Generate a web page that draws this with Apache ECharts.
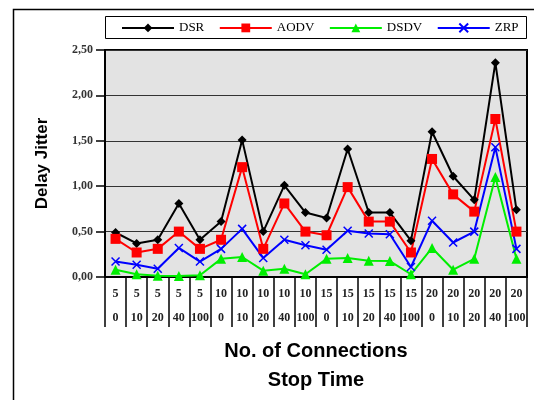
<!DOCTYPE html>
<html>
<head>
<meta charset="utf-8">
<script src="https://cdn.jsdelivr.net/npm/echarts@6/dist/echarts.min.js"></script>
<style>
html,body{margin:0;padding:0;background:#fff;}
#chart{width:534px;height:400px;}
</style>
</head>
<body>
<div id="chart"></div>
<script>
// Number of connections and stop time for each scenario
const connections = [5,5,5,5,5,10,10,10,10,10,15,15,15,15,15,20,20,20,20,20];
const stopTimes   = [0,10,20,40,100,0,10,20,40,100,0,10,20,40,100,0,10,20,40,100];

// Delay jitter per protocol
const dsr  = [0.49,0.37,0.41,0.81,0.41,0.61,1.51,0.50,1.01,0.71,0.65,1.41,0.71,0.71,0.40,1.60,1.11,0.85,2.36,0.74];
const aodv = [0.42,0.27,0.31,0.50,0.31,0.41,1.21,0.31,0.81,0.50,0.46,0.99,0.61,0.61,0.27,1.30,0.91,0.72,1.74,0.50];
const dsdv = [0.08,0.03,0.015,0.01,0.02,0.20,0.22,0.07,0.09,0.03,0.20,0.21,0.18,0.175,0.03,0.32,0.08,0.20,1.10,0.20];
const zrp  = [0.17,0.135,0.09,0.32,0.17,0.31,0.53,0.21,0.41,0.35,0.30,0.51,0.48,0.47,0.11,0.62,0.38,0.50,1.43,0.31];

const yTicks = [0, 0.5, 1, 1.5, 2, 2.5];

const categories = connections.map((c, i) => c + '\n' + stopTimes[i]);

const serif = '"Liberation Serif", "Times New Roman", serif';
const sans = '"Liberation Sans", Arial, sans-serif';

const chart = echarts.init(document.getElementById('chart'));

function lineSeries(name, data, color, symbol, size, extra) {
  return Object.assign({
    name: name,
    type: 'line',
    data: data,
    symbol: symbol,
    symbolSize: size,
    showAllSymbol: true,
    lineStyle: { color: color, width: 2 },
    itemStyle: { color: color },
    emphasis: { disabled: true },
    animation: false
  }, extra || {});
}

chart.setOption({
  animation: false,
  graphic: [
    { type: 'rect', shape: { x: 13.5, y: 9.5, width: 600, height: 500 },
      style: { fill: 'none', stroke: '#000', lineWidth: 1.5 }, z: -1 },
    { type: 'rect', shape: { x: 105.5, y: 16.5, width: 421, height: 22 },
      style: { fill: '#fff', stroke: '#000', lineWidth: 1 }, z: 0 }
  ],
  legend: {
    left: 121,
    top: 21,
    itemWidth: 52,
    itemHeight: 11,
    itemGap: 14.5,
    padding: 0,
    z: 5,
    textStyle: { fontFamily: serif, fontSize: 13, color: '#000', padding: [0, 0, 0, 0] },
    data: ['DSR', 'AODV', 'DSDV', 'ZRP']
  },
  grid: {
    left: 105, right: 7, top: 50, bottom: 122,
    show: true,
    backgroundColor: '#e3e3e3',
    borderColor: '#000',
    borderWidth: 2
  },
  xAxis: {
    type: 'category',
    data: categories,
    boundaryGap: true,
    axisLine: { show: true, lineStyle: { color: '#000', width: 2 } },
    axisTick: { show: true, interval: 0, length: 50, lineStyle: { color: '#000', width: 1.5 } },
    axisLabel: {
      interval: 0,
      margin: 5,
      lineHeight: 24,
      fontFamily: serif,
      fontWeight: 'bold',
      fontSize: 12,
      color: '#222'
    },
    splitLine: { show: false },
    name: 'No. of Connections\nStop Time',
    nameLocation: 'middle',
    nameGap: 60,
    nameTextStyle: { fontFamily: sans, fontWeight: 'bold', fontSize: 20, lineHeight: 29, color: '#000' }
  },
  yAxis: {
    type: 'value',
    min: 0,
    max: 2.5,
    interval: 0.5,
    axisLine: { show: true, lineStyle: { color: '#000', width: 2 } },
    axisTick: { show: true, length: 9, lineStyle: { color: '#000', width: 1.5 } },
    axisLabel: {
      margin: 12,
      fontFamily: serif,
      fontWeight: 'bold',
      fontSize: 12,
      color: '#333',
      formatter: v => yTicks.includes(v) ? v.toFixed(2).replace('.', ',') : ''
    },
    splitLine: { show: true, lineStyle: { color: '#333', width: 1 } },
    name: 'Delay Jitter',
    nameLocation: 'middle',
    nameGap: 54,
    nameTextStyle: { fontFamily: sans, fontWeight: 'bold', fontSize: 17, color: '#000' }
  },
  series: [
    lineSeries('DSR', dsr, '#000000', 'diamond', 9),
    lineSeries('AODV', aodv, '#ff0000', 'rect', 10),
    lineSeries('DSDV', dsdv, '#00ee00', 'triangle', 10),
    lineSeries('ZRP', zrp, '#0000ff', 'path://M0,0L10,10M10,0L0,10', 8, {
      itemStyle: { color: 'none', borderColor: '#0000ff', borderWidth: 1.5 }
    })
  ]
});
</script>
</body>
</html>
